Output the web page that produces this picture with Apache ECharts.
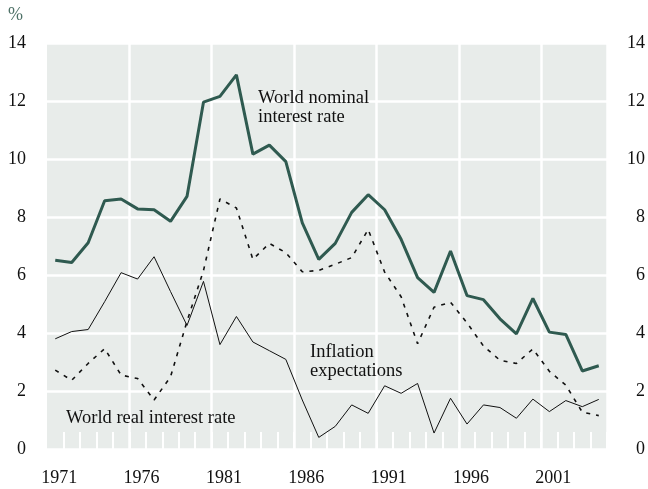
<!DOCTYPE html>
<html>
<head>
<meta charset="utf-8">
<script src="https://cdn.jsdelivr.net/npm/echarts@6/dist/echarts.min.js"></script>
<style>html,body{margin:0;padding:0;background:#fff;}#c{width:648px;height:489px;}</style>
</head>
<body>
<div id="c"></div>
<script>
var years = ['1971','1972','1973','1974','1975','1976','1977','1978','1979','1980',
  '1981','1982','1983','1984','1985','1986','1987','1988','1989','1990',
  '1991','1992','1993','1994','1995','1996','1997','1998','1999','2000',
  '2001','2002','2003','2004'];
var nominalRate = [6.51,6.43,7.11,8.56,8.62,8.28,8.25,7.85,8.71,11.96,
  12.16,12.90,10.17,10.48,9.91,7.80,6.54,7.09,8.16,8.77,
  8.25,7.23,5.91,5.40,6.83,5.29,5.15,4.49,3.97,5.19,
  4.03,3.95,2.69,2.87];
var inflationExpectations = [2.72,2.37,2.95,3.46,2.55,2.43,1.69,2.49,4.40,6.15,
  8.62,8.31,6.54,7.09,6.77,6.11,6.16,6.37,6.60,7.57,
  6.10,5.25,3.63,4.89,5.06,4.35,3.55,3.06,2.95,3.45,
  2.68,2.20,1.27,1.15];
var realRate = [3.80,4.05,4.12,5.08,6.08,5.86,6.63,5.43,4.26,5.78,
  3.60,4.57,3.69,3.39,3.09,1.69,0.40,0.78,1.52,1.23,
  2.18,1.92,2.26,0.55,1.75,0.86,1.52,1.43,1.06,1.72,
  1.29,1.67,1.46,1.71];
var yTicks = {min: 0, max: 14, interval: 2};
var labelNominal = ['World nominal', 'interest rate'];
var labelInflation = ['Inflation', 'expectations'];
var labelReal = 'World real interest rate';
var unitLabel = '%';

var FONT = 'Liberation Serif';
var chart = echarts.init(document.getElementById('c'), null, {renderer: 'canvas'});
var tickFn = function (i) { return i > 0; };
var splitFn = function (i) { return i > 0 && i % 5 === 0; };
var txt = function (t, x, y, size, color) {
  return {type: 'text', x: x, y: y, z: 100, zlevel: 0,
    style: {text: t, fill: color || '#111', fontFamily: FONT, fontSize: size, verticalAlign: 'middle', align: 'left'}};
};
chart.setOption({
  animation: false,
  backgroundColor: '#ffffff',
  grid: {left: 47, right: 39, top: 43, bottom: 40, show: true, backgroundColor: '#e8ecea', borderWidth: 0},
  xAxis: [{
    type: 'category', data: years, boundaryGap: true, position: 'bottom',
    axisLine: {show: false},
    axisTick: {show: true, inside: true, length: 17, interval: tickFn, lineStyle: {color: '#ffffff', width: 2}},
    splitLine: {show: true, interval: splitFn, lineStyle: {color: '#ffffff', width: 2.5}},
    axisLabel: {interval: 4, margin: 20, fontFamily: FONT, fontSize: 18, color: '#111', padding: [0, 0, 0, 8]}
  }, {
    type: 'category', data: years, boundaryGap: true, position: 'top',
    axisLine: {show: false},
    axisTick: {show: true, inside: true, length: 17, interval: tickFn, lineStyle: {color: '#ffffff', width: 2}},
    splitLine: {show: false},
    axisLabel: {show: false}
  }],
  yAxis: [{
    type: 'value', min: yTicks.min, max: yTicks.max, interval: yTicks.interval, position: 'left',
    axisLine: {show: false}, axisTick: {show: false},
    splitLine: {show: true, lineStyle: {color: '#ffffff', width: 2.5}},
    axisLabel: {margin: 21, fontFamily: FONT, fontSize: 18, color: '#111'}
  }, {
    type: 'value', min: yTicks.min, max: yTicks.max, interval: yTicks.interval, position: 'right',
    axisLine: {show: false}, axisTick: {show: false}, splitLine: {show: false},
    axisLabel: {margin: 38, align: 'right', fontFamily: FONT, fontSize: 18, color: '#111'}
  }],
  series: [{
    name: 'World real interest rate', type: 'line', data: realRate, symbol: 'none',
    lineStyle: {color: '#111', width: 1}
  }, {
    name: 'Inflation expectations', type: 'line', data: inflationExpectations, symbol: 'none',
    lineStyle: {color: '#111', width: 1.6, type: [4, 6]}
  }, {
    name: 'World nominal interest rate', type: 'line', data: nominalRate, symbol: 'none',
    lineStyle: {color: '#2f5a50', width: 3}
  }],
  graphic: {elements: [
    txt(unitLabel, 8, 15, 18, '#4e7167'),
    txt(labelNominal[0], 258, 98, 18.5),
    txt(labelNominal[1], 258, 117, 18.5),
    txt(labelInflation[0], 310, 352, 18.5),
    txt(labelInflation[1], 310, 371, 18.5),
    txt(labelReal, 66, 418, 18.5)
  ]}
});
</script>
</body>
</html>
